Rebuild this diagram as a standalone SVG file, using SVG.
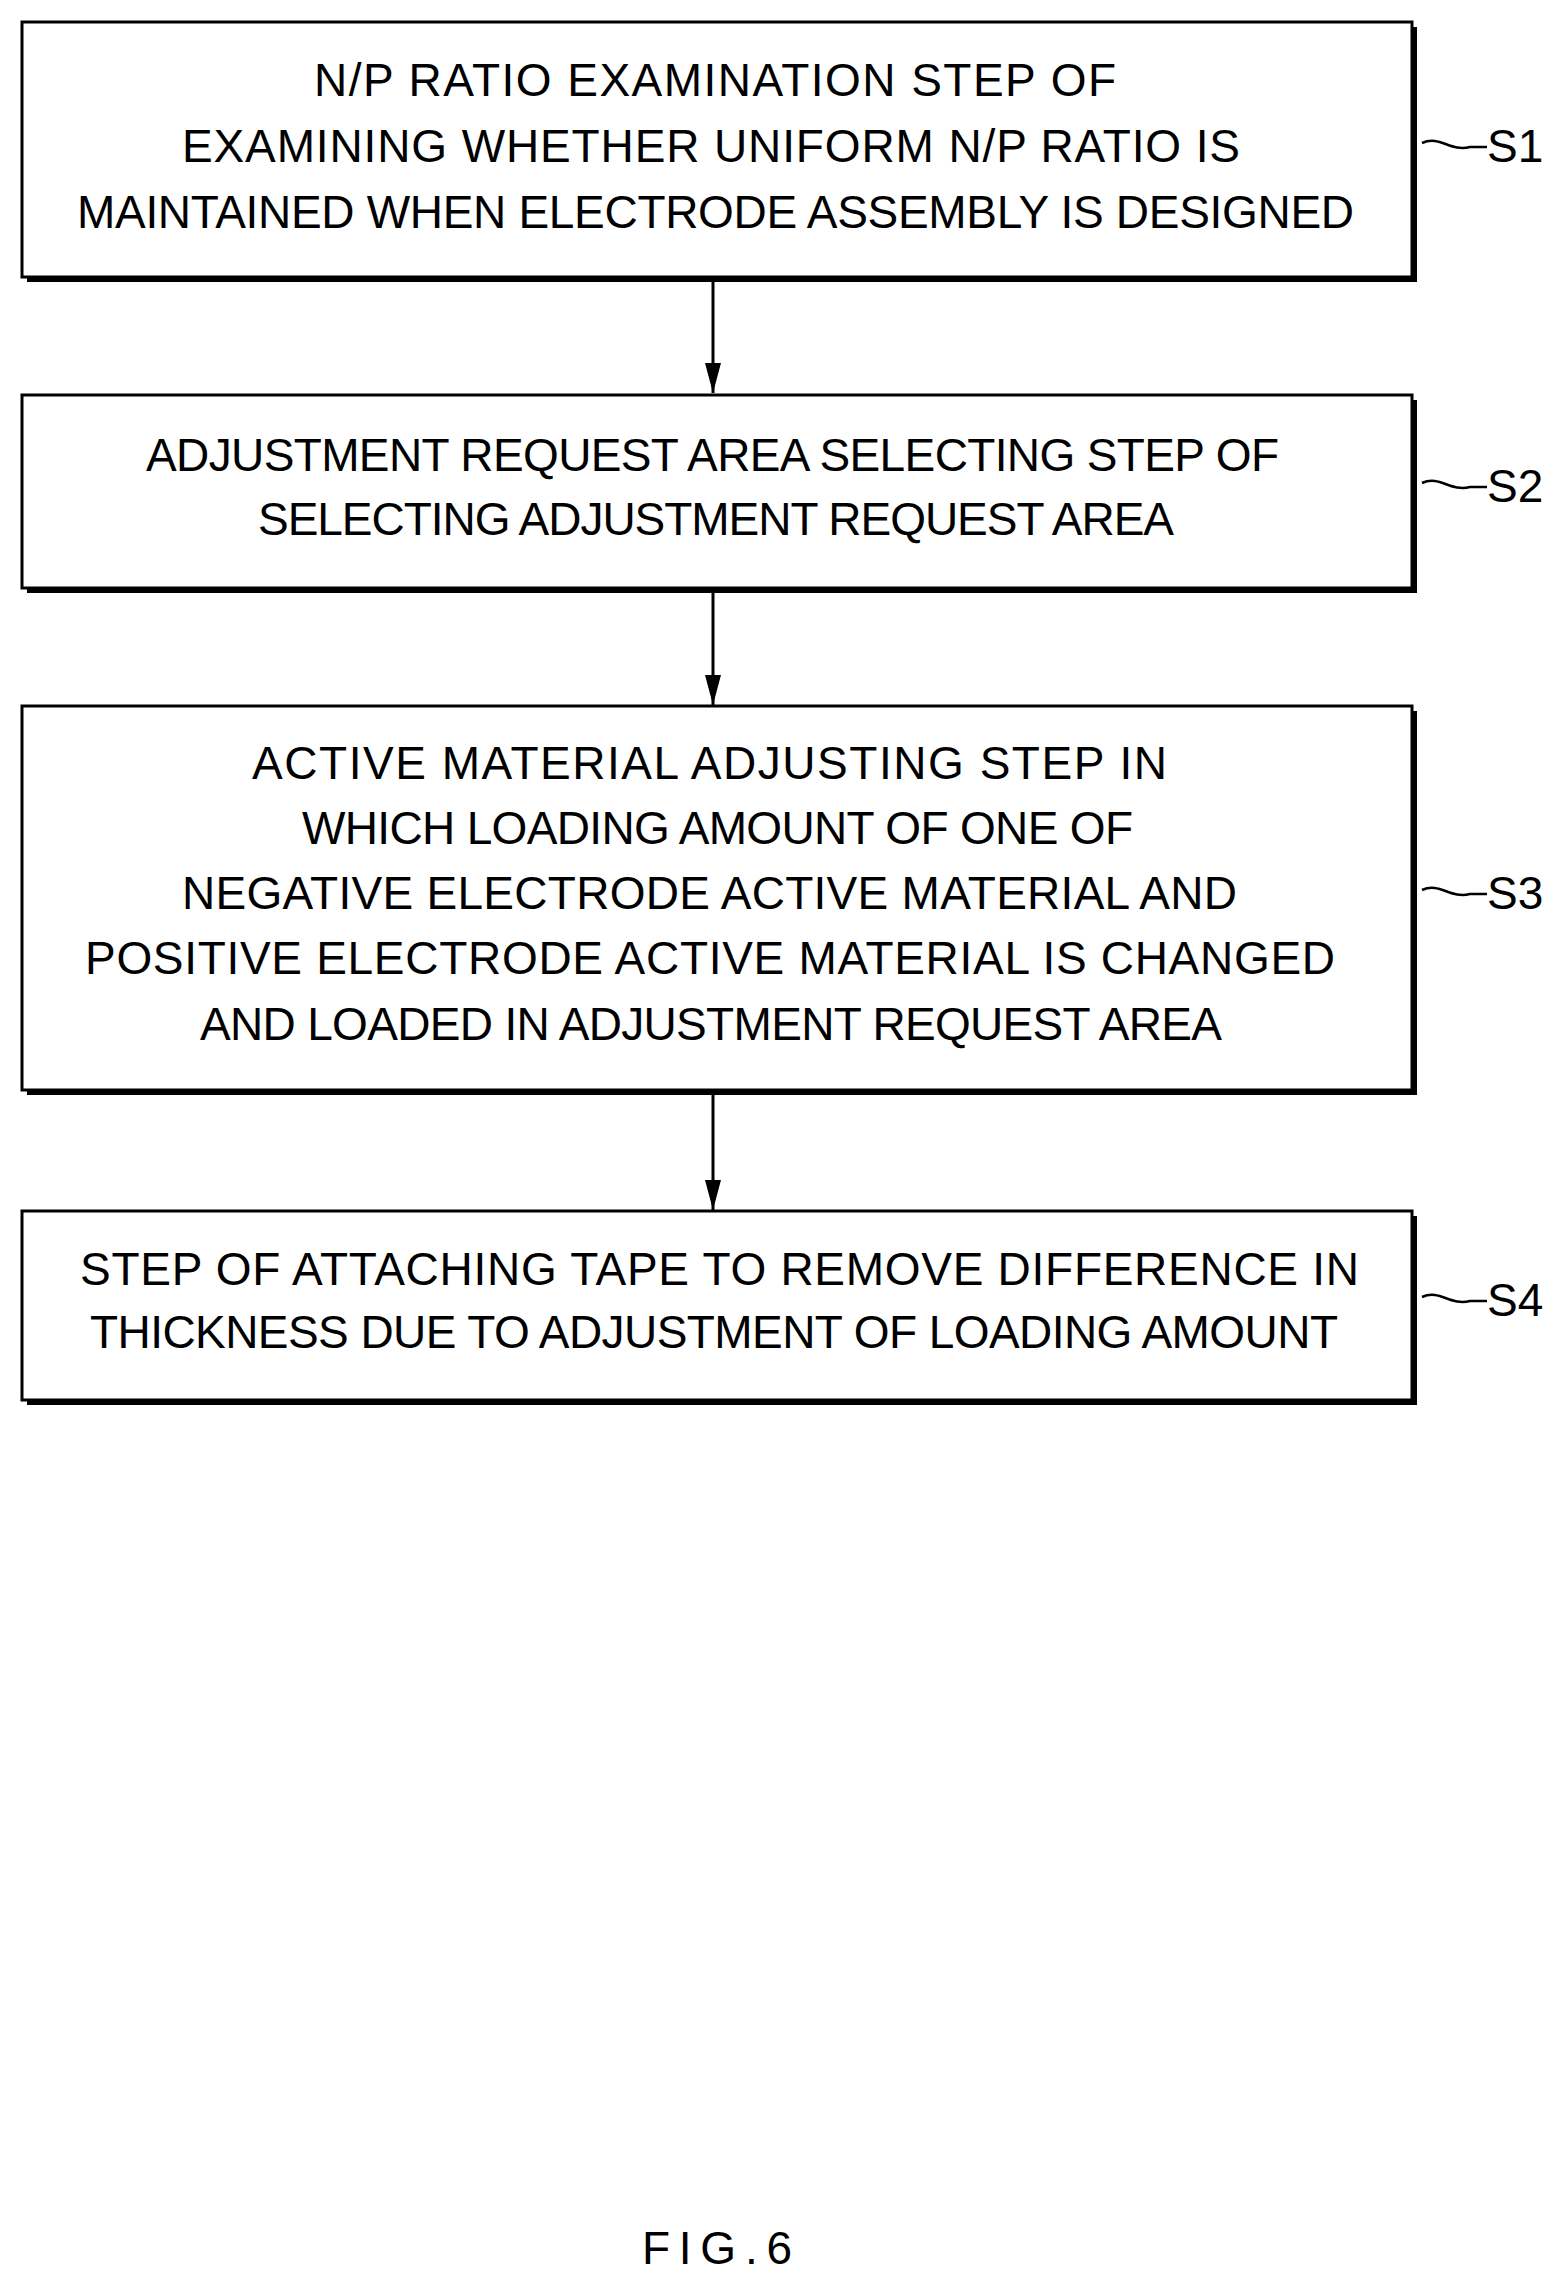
<svg xmlns="http://www.w3.org/2000/svg" width="1568" height="2291" viewBox="0 0 1568 2291">
<style>
.sh{fill:#000}
.bx{fill:#fff;stroke:#000;stroke-width:3}
text{font-family:"Liberation Sans",Arial,sans-serif;font-size:46px;fill:#000}
.t{text-anchor:start}
.lbl{font-size:46px}
.w{fill:none;stroke:#000;stroke-width:2.5}
.c{stroke:#000;stroke-width:3;fill:none}
</style>
<defs><marker id="ah" viewBox="0 0 10 10" refX="10" refY="5" markerWidth="6" markerHeight="6" markerUnits="userSpaceOnUse" orient="auto"><path d="M0,0 L10,5 L0,10 z"/></marker>
<marker id="a" viewBox="0 0 20 30" refX="10" refY="30" markerWidth="20" markerHeight="30" markerUnits="userSpaceOnUse" orient="0"><path d="M2,0 L10,30 L18,0 z" fill="#000"/></marker></defs>
<g id="connectors">
<line class="c" x1="713" y1="280" x2="713" y2="393" marker-end="url(#a)"/>
<line class="c" x1="713" y1="591" x2="713" y2="705" marker-end="url(#a)"/>
<line class="c" x1="713" y1="1093" x2="713" y2="1210" marker-end="url(#a)"/>
</g>
<g id="s1">
<rect class="sh" x="27" y="27" width="1390" height="255"/>
<rect class="bx" x="22" y="22" width="1390" height="255"/>
<text class="t" x="314" y="96" textLength="802" lengthAdjust="spacing">N/P RATIO EXAMINATION STEP OF</text>
<text class="t" x="182" y="162" textLength="1058" lengthAdjust="spacing">EXAMINING WHETHER UNIFORM N/P RATIO IS</text>
<text class="t" x="77" y="228" textLength="1277" lengthAdjust="spacing">MAINTAINED WHEN ELECTRODE ASSEMBLY IS DESIGNED</text>
<path class="w" d="M1422,143 C1440,135 1450,152 1470,147 L1487,147"/>
<text class="lbl" x="1487" y="162">S1</text>
</g>
<g id="s2">
<rect class="sh" x="27" y="400" width="1390" height="193"/>
<rect class="bx" x="22" y="395" width="1390" height="193"/>
<text class="t" x="146" y="471" textLength="1133" lengthAdjust="spacing">ADJUSTMENT REQUEST AREA SELECTING STEP OF</text>
<text class="t" x="258" y="535" textLength="916" lengthAdjust="spacing">SELECTING ADJUSTMENT REQUEST AREA</text>
<path class="w" d="M1422,483 C1440,475 1450,492 1470,487 L1487,487"/>
<text class="lbl" x="1487" y="502">S2</text>
</g>
<g id="s3">
<rect class="sh" x="27" y="711" width="1390" height="384"/>
<rect class="bx" x="22" y="706" width="1390" height="384"/>
<text class="t" x="252" y="779" textLength="915" lengthAdjust="spacing">ACTIVE MATERIAL ADJUSTING STEP IN</text>
<text class="t" x="302" y="844" textLength="831" lengthAdjust="spacing">WHICH LOADING AMOUNT OF ONE OF</text>
<text class="t" x="182" y="909" textLength="1055" lengthAdjust="spacing">NEGATIVE ELECTRODE ACTIVE MATERIAL AND</text>
<text class="t" x="85" y="974" textLength="1250" lengthAdjust="spacing">POSITIVE ELECTRODE ACTIVE MATERIAL IS CHANGED</text>
<text class="t" x="200" y="1040" textLength="1022" lengthAdjust="spacing">AND LOADED IN ADJUSTMENT REQUEST AREA</text>
<path class="w" d="M1422,890 C1440,882 1450,899 1470,894 L1487,894"/>
<text class="lbl" x="1487" y="909">S3</text>
</g>
<g id="s4">
<rect class="sh" x="27" y="1216" width="1390" height="189"/>
<rect class="bx" x="22" y="1211" width="1390" height="189"/>
<text class="t" x="80" y="1285" textLength="1279" lengthAdjust="spacing">STEP OF ATTACHING TAPE TO REMOVE DIFFERENCE IN</text>
<text class="t" x="90" y="1348" textLength="1248" lengthAdjust="spacing">THICKNESS DUE TO ADJUSTMENT OF LOADING AMOUNT</text>
<path class="w" d="M1422,1297 C1440,1289 1450,1306 1470,1301 L1487,1301"/>
<text class="lbl" x="1487" y="1316">S4</text>
</g>
<text x="642" y="2264" font-size="52" textLength="150" lengthAdjust="spacing">FIG.6</text>
</svg>
